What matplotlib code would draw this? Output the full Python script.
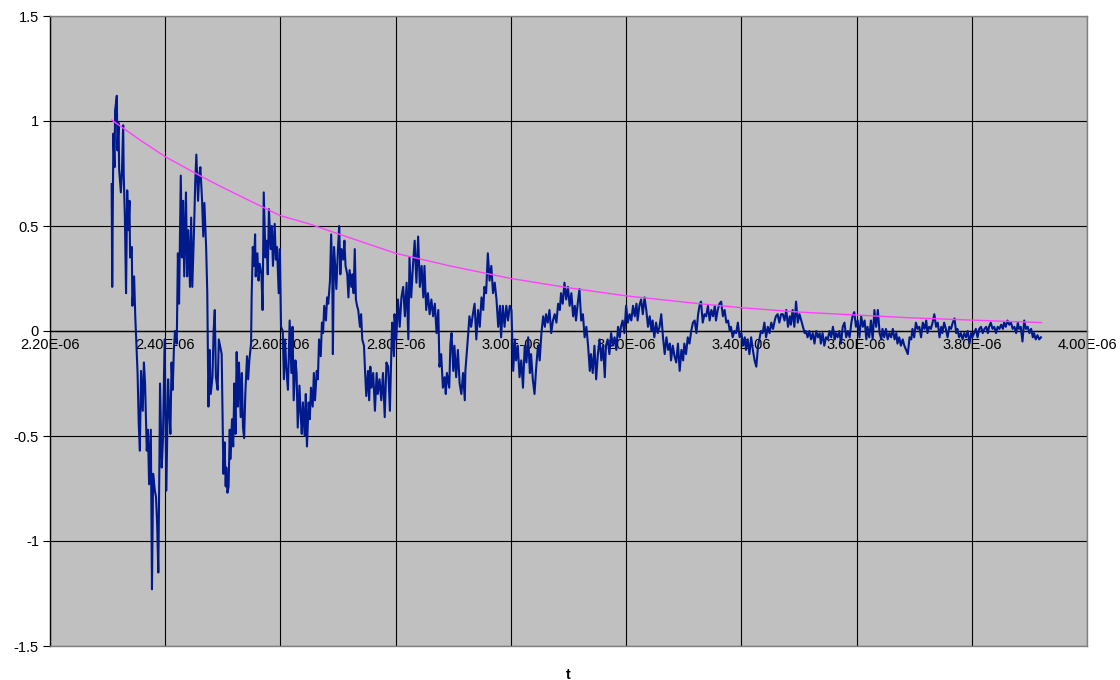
"""
Damped noisy oscillation with exponential envelope (Excel-style chart)
"""
import matplotlib
matplotlib.use('Agg')
import matplotlib.pyplot as plt
from matplotlib.ticker import FuncFormatter

plt.rcParams['font.family'] = ['Liberation Sans', 'DejaVu Sans']

t_us = [
    # first swing
    2.307, 2.308, 2.310, 2.312, 2.313, 2.316, 2.317, 2.319, 2.320, 2.323,
    2.325, 2.327, 2.328, 2.330, 2.332, 2.334, 2.336, 2.338, 2.339, 2.342,
    2.343, 2.346, 2.348, 2.350, 2.352, 2.354, 2.356, 2.358, 2.361, 2.363,
    2.365, 2.368, 2.370, 2.372, 2.375, 2.377, 2.379, 2.382, 2.384, 2.386,
    2.388, 2.390, 2.391, 2.394, 2.396,
    2.399, 2.402, 2.405, 2.407, 2.409, 2.411, 2.413, 2.415, 2.417, 2.420,
    2.422, 2.424, 2.427, 2.429, 2.431, 2.433, 2.436, 2.438, 2.440, 2.443,
    2.445, 2.447, 2.450, 2.452, 2.454, 2.457, 2.459, 2.461, 2.464, 2.466,
    2.468, 2.471, 2.473, 2.475, 2.477, 2.479, 2.482, 2.484, 2.486, 2.488,
    2.491, 2.493,
    # 2.5 - 2.71
    2.498, 2.500, 2.501, 2.503, 2.505, 2.506, 2.508, 2.510, 2.512, 2.513,
    2.516, 2.518, 2.520, 2.522, 2.524, 2.526, 2.528, 2.531, 2.533, 2.535,
    2.537, 2.539, 2.542, 2.544, 2.546, 2.549, 2.550, 2.552, 2.554, 2.556,
    2.557, 2.560, 2.562, 2.564, 2.567, 2.569, 2.571, 2.574, 2.576, 2.578,
    2.580, 2.583, 2.585, 2.587, 2.590, 2.592, 2.594, 2.597, 2.599, 2.601,
    2.604, 2.606, 2.608, 2.610, 2.613, 2.616, 2.619, 2.621, 2.623, 2.626,
    2.628, 2.630, 2.633, 2.635, 2.637, 2.639, 2.642, 2.644, 2.646, 2.649,
    2.651, 2.653, 2.656, 2.658, 2.660, 2.663, 2.665, 2.667, 2.670, 2.672,
    2.674, 2.676, 2.679, 2.681, 2.683, 2.686, 2.688, 2.690, 2.691, 2.693,
    2.695, 2.697, 2.700, 2.702, 2.704, 2.706, 2.709, 2.711, 2.713,
    # 2.71 - 2.98
    2.716, 2.718, 2.720, 2.723, 2.725, 2.727, 2.729, 2.731, 2.733, 2.735,
    2.738, 2.740, 2.742, 2.745, 2.747, 2.749, 2.752, 2.754, 2.756, 2.758,
    2.761, 2.764, 2.767, 2.769, 2.772, 2.775, 2.778, 2.781, 2.784, 2.787,
    2.790, 2.793, 2.794, 2.797, 2.798, 2.801, 2.804, 2.807, 2.810, 2.813,
    2.816, 2.819, 2.822, 2.824, 2.827, 2.830, 2.833, 2.836, 2.839, 2.842,
    2.845, 2.848, 2.850, 2.853, 2.856, 2.859, 2.862, 2.865, 2.868, 2.871,
    2.874, 2.876, 2.879, 2.882, 2.885, 2.887, 2.889, 2.893, 2.895, 2.897,
    2.900, 2.902, 2.905, 2.908, 2.911, 2.914, 2.917, 2.920, 2.921, 2.926,
    2.928, 2.931, 2.934, 2.937, 2.940, 2.943, 2.946, 2.949, 2.952, 2.954,
    2.957, 2.960, 2.963, 2.966, 2.969, 2.972, 2.975, 2.978,
    # 2.98 - 3.26
    2.981, 2.983, 2.986, 2.989, 2.992, 2.995, 2.998, 3.001, 3.004, 3.007,
    3.009, 3.012, 3.015, 3.018, 3.021, 3.024, 3.027, 3.030, 3.033, 3.035,
    3.038, 3.041, 3.044, 3.047, 3.050, 3.053, 3.056, 3.059, 3.061, 3.064,
    3.067, 3.070, 3.073, 3.076, 3.079, 3.082, 3.085, 3.087, 3.090, 3.093,
    3.096, 3.099, 3.102, 3.105, 3.108, 3.111, 3.113, 3.116, 3.119, 3.122,
    3.125, 3.128, 3.131, 3.134, 3.137, 3.139, 3.142, 3.145, 3.148, 3.151,
    3.154, 3.157, 3.160, 3.163, 3.165, 3.168, 3.171, 3.174, 3.177, 3.180,
    3.183, 3.186, 3.189, 3.191, 3.194, 3.197, 3.200, 3.203, 3.206, 3.209,
    3.212, 3.215, 3.218, 3.220, 3.223, 3.226, 3.229, 3.232, 3.235, 3.238,
    3.241, 3.244, 3.246, 3.249, 3.252, 3.255,
    # 3.26 - 3.59
    3.258, 3.261, 3.264, 3.267, 3.270, 3.273, 3.276, 3.278, 3.281, 3.284,
    3.287, 3.290, 3.293, 3.296, 3.299, 3.301, 3.304, 3.307, 3.310, 3.313,
    3.316, 3.319, 3.322, 3.325, 3.328, 3.330, 3.333, 3.336, 3.339, 3.342,
    3.345, 3.348, 3.351, 3.354, 3.356, 3.359, 3.362, 3.365, 3.368, 3.371,
    3.374, 3.377, 3.380, 3.382, 3.385, 3.388, 3.391, 3.394, 3.397, 3.400,
    3.403, 3.406, 3.408, 3.411, 3.414, 3.417, 3.420, 3.423, 3.426, 3.429,
    3.432, 3.434, 3.437, 3.440, 3.443, 3.446, 3.449, 3.452, 3.455, 3.458,
    3.460, 3.463, 3.466, 3.469, 3.472, 3.475, 3.478, 3.481, 3.484, 3.486,
    3.489, 3.492, 3.495, 3.498, 3.501, 3.504, 3.507, 3.510, 3.512, 3.515,
    3.518, 3.521, 3.524, 3.527, 3.530, 3.533, 3.536, 3.538, 3.541, 3.544,
    3.547, 3.550, 3.553, 3.556, 3.559, 3.562, 3.564, 3.567, 3.570, 3.573,
    3.576, 3.579, 3.582, 3.585,
    # 3.59 - end
    3.588, 3.591, 3.593, 3.596, 3.599, 3.602, 3.605, 3.608, 3.611, 3.614,
    3.617, 3.619, 3.622, 3.625, 3.628, 3.631, 3.634, 3.637, 3.640, 3.643,
    3.645, 3.648, 3.651, 3.654, 3.657, 3.660, 3.663, 3.666, 3.669, 3.671,
    3.674, 3.677, 3.680, 3.683, 3.686, 3.689, 3.692, 3.695, 3.697, 3.700,
    3.703, 3.706, 3.709, 3.712, 3.715, 3.718, 3.721, 3.723, 3.726, 3.729,
    3.732, 3.735, 3.738, 3.741, 3.744, 3.747, 3.749, 3.752, 3.755, 3.758,
    3.761, 3.764, 3.767, 3.770, 3.773, 3.775, 3.778, 3.781, 3.784, 3.787,
    3.790, 3.793, 3.796, 3.799, 3.801, 3.804, 3.807, 3.810, 3.813, 3.816,
    3.819, 3.822, 3.825, 3.828, 3.830, 3.833, 3.836, 3.839, 3.842, 3.845,
    3.848, 3.851, 3.854, 3.856, 3.859, 3.862, 3.865, 3.868, 3.871, 3.874,
    3.877, 3.880, 3.882, 3.885, 3.888, 3.891, 3.894, 3.897, 3.900, 3.903,
    3.906, 3.908, 3.911, 3.914, 3.917, 3.920,
]

signal = [
    0.70, 0.21, 0.94, 0.78, 1.05, 1.12, 0.86, 0.99, 0.77, 0.66,
    0.77, 0.98, 0.74, 0.54, 0.18, 0.67, 0.48, 0.62, 0.35, 0.40,
    0.12, 0.26, 0.07, -0.06, -0.20, -0.44, -0.57, -0.19, -0.38, -0.15,
    -0.25, -0.57, -0.47, -0.73, -0.47, -1.23, -0.68, -0.76, -0.79, -0.92,
    -1.15, -0.60, -0.25, -0.65, -0.52,
    -0.04, -0.76, -0.23, -0.38, -0.49, -0.15, -0.28, -0.09, 0.00, -0.06,
    0.37, 0.13, 0.74, 0.35, 0.62, 0.26, 0.66, 0.26, 0.48, 0.21,
    0.54, 0.21, 0.48, 0.70, 0.84, 0.62, 0.74, 0.78, 0.62, 0.45,
    0.61, 0.40, 0.18, -0.36, -0.09, -0.30, -0.22, 0.00, 0.10, -0.22,
    -0.28, -0.04,
    -0.11, -0.49, -0.68, -0.53, -0.74, -0.65, -0.77, -0.74, -0.47, -0.61,
    -0.42, -0.55, -0.25, -0.49, -0.10, -0.36, -0.15, -0.41, -0.20, -0.46,
    -0.51, -0.30, -0.12, -0.23, -0.14, -0.06, 0.16, 0.40, 0.31, 0.46,
    0.26, 0.37, 0.24, 0.32, 0.27, 0.10, 0.66, 0.35, 0.43, 0.27,
    0.58, 0.39, 0.50, 0.31, 0.51, 0.34, 0.40, 0.18, 0.39, 0.02,
    0.00, -0.23, -0.04, -0.17, -0.28, 0.05, -0.20, 0.02, -0.33, -0.14,
    -0.20, -0.46, -0.26, -0.39, -0.49, -0.34, -0.50, -0.30, -0.55, -0.34,
    -0.42, -0.27, -0.36, -0.20, -0.33, -0.19, -0.23, -0.04, -0.12, 0.04,
    -0.01, 0.12, 0.05, 0.16, 0.13, 0.24, 0.46, 0.27, -0.11, 0.40,
    0.31, 0.20, 0.40, 0.50, 0.27, 0.39, 0.34, 0.43, 0.31,
    0.27, 0.16, 0.29, 0.21, 0.27, 0.18, 0.39, 0.15, 0.12, 0.10,
    0.02, 0.08, -0.04, -0.07, -0.20, -0.31, -0.19, -0.33, -0.17, -0.27,
    -0.20, -0.38, -0.20, -0.30, -0.23, -0.33, -0.20, -0.41, -0.15, -0.17,
    -0.38, -0.04, 0.04, -0.12, 0.08, -0.04, 0.15, 0.02, 0.16, 0.21,
    0.07, 0.23, -0.04, 0.35, 0.16, 0.31, 0.43, 0.23, 0.45, 0.21,
    0.31, 0.16, 0.31, 0.10, 0.18, 0.08, 0.15, 0.07, 0.13, -0.01,
    0.10, -0.17, -0.11, -0.27, -0.22, -0.30, -0.20, -0.27, -0.06, -0.01,
    -0.19, -0.07, -0.22, -0.09, -0.25, -0.30, -0.20, -0.33, -0.19, -0.01,
    0.07, 0.02, 0.08, 0.13, -0.04, 0.10, 0.02, 0.16, 0.10, 0.21,
    0.18, 0.37, 0.24, 0.31, 0.18, 0.23, 0.15, 0.02,
    0.12, -0.03, 0.12, 0.02, 0.12, 0.05, 0.12, 0.10, -0.19, -0.04,
    -0.14, -0.07, -0.22, -0.14, -0.27, -0.07, -0.15, -0.03, -0.20, -0.11,
    -0.23, -0.30, -0.17, -0.07, -0.14, -0.01, 0.07, 0.02, 0.08, 0.04,
    0.10, -0.01, 0.05, 0.08, 0.04, 0.13, 0.10, 0.18, 0.13, 0.23,
    0.15, 0.21, 0.12, 0.18, 0.07, 0.12, 0.05, 0.13, 0.20, 0.05,
    0.08, -0.03, 0.02, -0.07, -0.19, -0.11, -0.20, -0.07, -0.23, -0.11,
    -0.04, -0.14, -0.07, -0.22, -0.07, -0.04, -0.11, -0.01, -0.07, -0.03,
    -0.09, 0.02, -0.03, 0.02, 0.05, -0.01, 0.12, 0.04, 0.08, 0.05,
    0.12, 0.07, 0.13, 0.05, 0.12, 0.15, 0.08, 0.16, 0.10, 0.02,
    0.07, 0.00, 0.05, -0.03, 0.04, -0.01,
    0.02, 0.08, -0.03, -0.11, -0.03, -0.09, -0.06, -0.14, -0.07, -0.12,
    -0.15, -0.06, -0.19, -0.09, -0.14, -0.06, -0.11, -0.03, -0.06, 0.00,
    0.04, 0.05, -0.01, 0.08, 0.13, 0.14, 0.04, 0.08, 0.07, 0.12,
    0.05, 0.10, 0.07, 0.12, 0.05, 0.10, 0.13, 0.14, 0.07, 0.10,
    0.04, 0.05, 0.00, 0.02, -0.03, 0.00, -0.01, 0.04, -0.03, -0.01,
    -0.07, -0.03, -0.09, -0.04, -0.11, -0.03, -0.09, -0.14, -0.17, -0.07,
    -0.03, 0.00, -0.01, 0.04, -0.03, 0.02, -0.01, 0.04, 0.01, 0.05,
    0.07, 0.08, 0.04, 0.08, 0.08, 0.05, 0.10, 0.02, 0.07, 0.03,
    0.10, 0.02, 0.14, 0.04, 0.08, 0.05, 0.02, -0.01, 0.00, -0.03,
    0.00, -0.04, -0.01, -0.06, 0.00, -0.03, -0.01, -0.06, -0.01, -0.07,
    -0.03, -0.04, 0.00, -0.03, 0.02, -0.04, -0.01, -0.03, 0.00, -0.06,
    0.02, 0.04, -0.03, 0.00,
    -0.03, 0.04, 0.07, 0.09, 0.02, 0.05, -0.03, 0.07, 0.02, 0.05,
    -0.04, 0.02, -0.03, 0.05, -0.04, 0.10, 0.02, 0.10, -0.01, -0.04,
    0.01, -0.03, 0.01, -0.04, -0.01, -0.03, 0.01, -0.04, -0.01, -0.06,
    -0.03, -0.07, -0.04, -0.07, -0.09, -0.11, -0.03, -0.04, 0.01, -0.03,
    0.04, 0.01, 0.02, -0.03, 0.04, 0.01, 0.05, -0.01, 0.02, 0.01,
    0.04, 0.08, 0.02, 0.04, -0.03, 0.02, -0.01, 0.04, 0.01, -0.03,
    0.02, 0.01, 0.04, 0.06, -0.01, 0.01, -0.03, -0.01, -0.04, -0.01,
    -0.03, 0.00, -0.06, -0.01, -0.03, -0.01, 0.01, -0.03, 0.01, 0.02,
    -0.01, 0.01, 0.02, -0.01, 0.02, 0.04, 0.01, 0.02, -0.01, 0.02,
    0.01, 0.03, 0.01, 0.04, 0.02, 0.05, 0.03, 0.04, 0.01, 0.02,
    -0.01, 0.04, 0.01, 0.02, -0.05, 0.05, 0.01, 0.02, -0.01, 0.01,
    -0.03, -0.01, -0.04, -0.02, -0.04, -0.03,
]

# fitted decay envelope (magenta)
env_t_us = [2.307, 2.356, 2.400, 2.460, 2.495, 2.547, 2.599, 2.650, 2.703,
            2.800, 2.894, 3.000, 3.102, 3.201, 3.327, 3.400, 3.501, 3.600,
            3.692, 3.799, 3.921]
env_y = [1.005, 0.91, 0.83, 0.74, 0.69, 0.62, 0.55, 0.51, 0.46,
         0.37, 0.31, 0.25, 0.205, 0.167, 0.13, 0.111, 0.09, 0.076,
         0.063, 0.052, 0.040]

x_ticks = [2.2e-6, 2.4e-6, 2.6e-6, 2.8e-6, 3.0e-6, 3.2e-6, 3.4e-6,
           3.6e-6, 3.8e-6, 4.0e-6]
y_ticks = [-1.5, -1.0, -0.5, 0.0, 0.5, 1.0, 1.5]
y_labels = ['-1.5', '-1', '-0.5', '0', '0.5', '1', '1.5']

t = [v * 1e-6 for v in t_us]
env_t = [v * 1e-6 for v in env_t_us]

fig = plt.figure(figsize=(11.2, 6.8), dpi=100)
ax = fig.add_axes([50 / 1120, 34 / 680, 1037 / 1120, 630 / 680])
ax.set_facecolor('#c0c0c0')

ax.plot(t, signal, color='#001a8c', linewidth=1.5, zorder=3)
ax.plot(env_t, env_y, color='#ff40ff', linewidth=1.0, zorder=4)

ax.set_xlim(2.2e-6, 4.0e-6)
ax.set_ylim(-1.5, 1.5)
ax.set_xticks(x_ticks)
ax.set_yticks(y_ticks)
ax.set_yticklabels(y_labels)
ax.grid(True, color='black', linewidth=0.8)
ax.set_axisbelow(True)

ax.tick_params(axis='x', length=0, labelbottom=False)
ax.tick_params(axis='y', length=5, width=0.8, labelsize=10.5, pad=3)

for side in ['top', 'right', 'bottom']:
    ax.spines[side].set_color('#808080')
    ax.spines[side].set_linewidth(1.0)
ax.spines['left'].set_color('black')
ax.spines['left'].set_linewidth(1.0)

# x axis crosses at y = 0 (axes fraction 0.5), labels below it, under the data
secax = ax.secondary_xaxis(0.5)
secax.set_alignment('bottom')
secax.set_zorder(1)
secax.set_xticks(x_ticks)
secax.xaxis.set_major_formatter(FuncFormatter(lambda v, pos: f"{v:.2E}"))
secax.tick_params(axis='x', length=0, labelsize=10.5, pad=5)
secax.spines['bottom'].set_color('black')
secax.spines['bottom'].set_linewidth(1.0)

fig.text(568 / 1120, 1 - 675 / 680, 't', ha='center', va='center',
         fontsize=10.5, fontweight='bold')

plt.savefig('out.png', dpi=100)
plt.close()
